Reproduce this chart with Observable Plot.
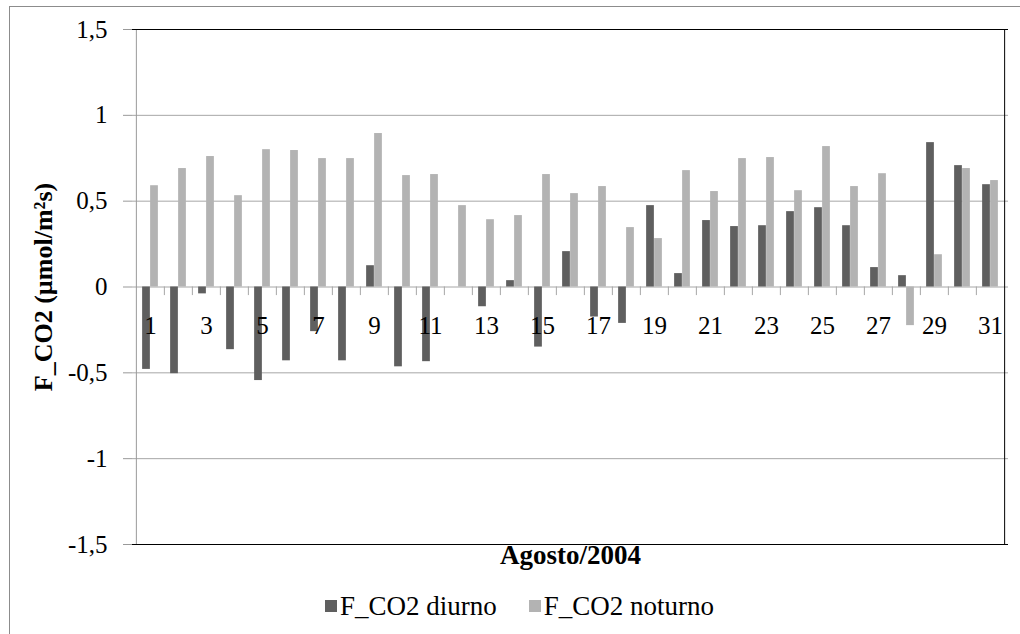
<!DOCTYPE html>
<html>
<head>
<meta charset="utf-8">
<script src="https://cdn.jsdelivr.net/npm/d3@7"></script>
<script src="https://cdn.jsdelivr.net/npm/@observablehq/plot@0.6"></script>
<style>
  body { margin: 0; background: #fff; }
  #wrap { position: relative; width: 1020px; height: 634px; overflow: hidden;
          font-family: "Liberation Serif", "DejaVu Serif", "Noto Serif", Tinos, "Times New Roman", Times, serif; }
  #border { position: absolute; left: 9px; top: 6px; width: 1100px; height: 700px;
            border: 1px solid #8c8c8c; }
  #chart { position: absolute; left: 0; top: 0; }
  #chart svg, #chart svg text { font-family: "Liberation Serif", "DejaVu Serif", "Noto Serif", Tinos, "Times New Roman", Times, serif; }
  #legend { position: absolute; left: 325px; top: 590px; height: 32px; display: flex;
            align-items: center; font-size: 27px; color: #000; white-space: nowrap; }
  .sw { display: inline-block; width: 12px; height: 12px; margin-right: 3px; }
</style>
</head>
<body>
<div id="wrap">
  <div id="border"></div>
  <div id="chart"></div>
  <div id="legend"></div>
</div>
<script>
const days = [1,2,3,4,5,6,7,8,9,10,11,12,13,14,15,16,17,18,19,20,21,22,23,24,25,26,27,28,29,30,31];
const diurno = [-0.48,-0.505,-0.04,-0.365,-0.545,-0.43,-0.26,-0.43,0.124,-0.465,-0.435,0,-0.115,0.037,-0.35,0.206,-0.175,-0.212,0.474,0.078,0.387,0.352,0.357,0.439,0.462,0.357,0.113,0.066,0.841,0.707,0.596];
const noturno = [0.59,0.69,0.76,0.532,0.80,0.795,0.748,0.748,0.894,0.649,0.655,0.474,0.392,0.416,0.655,0.544,0.585,0.346,0.282,0.678,0.556,0.748,0.754,0.561,0.818,0.585,0.66,-0.225,0.188,0.69,0.62];
const seriesNames = ["F_CO2 diurno", "F_CO2 noturno"];
const seriesColors = ["#5f5f5f", "#b3b3b3"];
const yTicks = [-1.5, -1, -0.5, 0, 0.5, 1, 1.5];
const gridTicks = [-1, -0.5, 0, 0.5, 1];
const xLabels = [1,3,5,7,9,11,13,15,17,19,21,23,25,27,29,31];
const xTitle = "Agosto/2004";
const yTitle = "F_CO2 (µmol/m²s)";

const rows = days.map((d, i) => ({day: d, diurno: diurno[i], noturno: noturno[i]}));

const FONT = '"Liberation Serif", "DejaVu Serif", "Noto Serif", Tinos, "Times New Roman", Times, serif';
const W = 1020, H = 590, mL = 132, mR = 12, mT = 29, mB = 46;
const bw = (W - mL - mR) / days.length;
const barW = 8;

const chart = Plot.plot({
  width: W, height: H,
  marginTop: mT, marginBottom: mB, marginLeft: mL, marginRight: mR,
  style: {fontFamily: FONT, fontSize: "25px", color: "#000", background: "transparent", overflow: "visible"},
  x: {type: "band", domain: days, padding: 0, axis: null},
  y: {domain: [-1.5, 1.5], axis: null},
  marks: [
    Plot.gridY(gridTicks, {stroke: "#a6a6a6", strokeOpacity: 1}),
    Plot.ruleX(days.slice(1), {x: d => d, y1: 0, y2: -0.05, dx: -bw / 2, stroke: "#a6a6a6"}),
    Plot.barY(rows, {x: "day", y: "diurno", fill: seriesColors[0], insetLeft: bw / 2 - barW, insetRight: bw / 2}),
    Plot.barY(rows, {x: "day", y: "noturno", fill: seriesColors[1], insetLeft: bw / 2, insetRight: bw / 2 - barW}),
    Plot.ruleX([days[0]], {x: d => d, dx: -bw / 2, stroke: "#999"}),
    Plot.ruleX([days[days.length - 1]], {x: d => d, dx: bw / 2, stroke: "#000"}),
    Plot.ruleY([1.5, -1.5], {stroke: "#000"}),
    Plot.axisY({ticks: yTicks, tickSize: 9, tickPadding: 16, tickFormat: d => String(d).replace(".", ","),
                stroke: "#999", fill: "#000", fontSize: 25, label: null}),
    Plot.text(xLabels, {x: d => d, y: () => 0, text: d => String(d), dy: 39, fontSize: 25, fill: "#000"}),
    Plot.text([xTitle], {text: d => d, frameAnchor: "bottom", dy: 19, fontSize: 27, fontWeight: "bold", fill: "#000"}),
    Plot.text([yTitle], {text: d => d, frameAnchor: "left", dx: -89, rotate: -90, fontSize: 26, fontWeight: "bold", fill: "#000", textAnchor: "middle"})
  ]
});
document.getElementById("chart").appendChild(chart);

const legend = document.getElementById("legend");
seriesNames.forEach((name, i) => {
  const item = document.createElement("span");
  item.style.display = "inline-flex";
  item.style.alignItems = "center";
  if (i > 0) item.style.marginLeft = "32px";
  const sw = document.createElement("span");
  sw.className = "sw";
  sw.style.background = seriesColors[i];
  const label = document.createElement("span");
  label.textContent = name;
  item.appendChild(sw);
  item.appendChild(label);
  legend.appendChild(item);
});
</script>
</body>
</html>
